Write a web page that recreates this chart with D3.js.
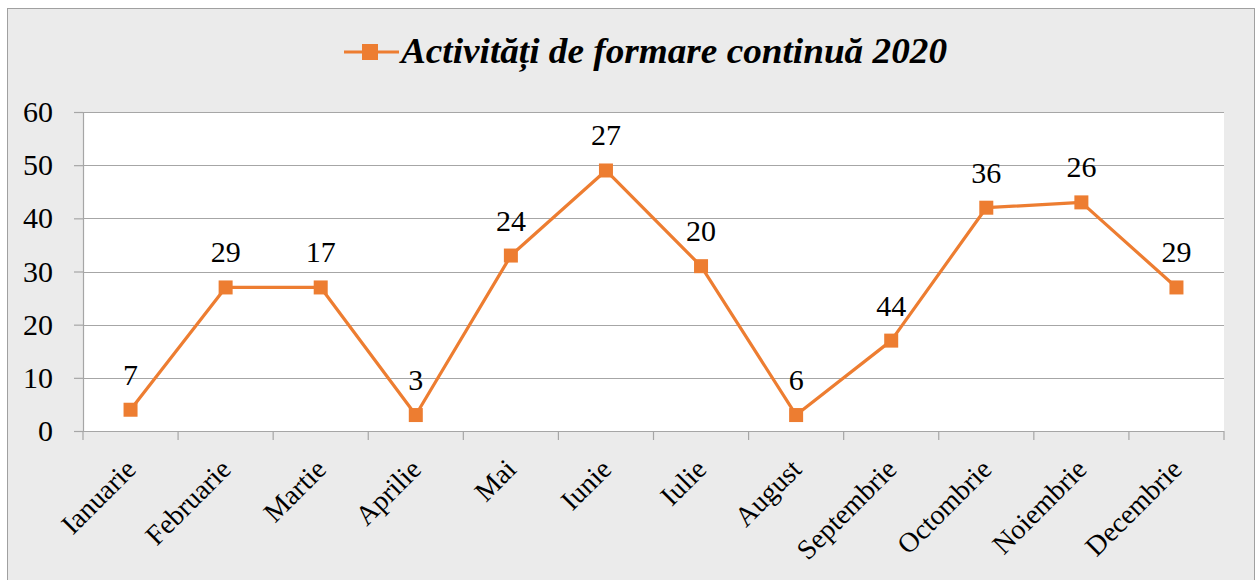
<!DOCTYPE html>
<html>
<head>
<meta charset="utf-8">
<script src="https://cdn.jsdelivr.net/npm/d3@7"></script>
<style>
  body { margin: 0; background: #fff; }
</style>
</head>
<body>
<div id="chart"></div>
<script>
// chart data
const months = ["Ianuarie", "Februarie", "Martie", "Aprilie", "Mai", "Iunie",
  "Iulie", "August", "Septembrie", "Octombrie", "Noiembrie", "Decembrie"];
const values = [4, 27, 27, 3, 33, 49, 31, 3, 17, 42, 43, 27];
const labels = [7, 29, 17, 3, 24, 27, 20, 6, 44, 36, 26, 29];
const yTicks = [0, 10, 20, 30, 40, 50, 60];
const seriesName = "Activități de formare continuă 2020";

const W = 1259, H = 580;
const FONT = "'Liberation Serif', 'Times New Roman', 'DejaVu Serif', serif";
const margin = {top: 112, right: 35, bottom: 149, left: 83},
    width = W - margin.left - margin.right,
    height = H - margin.top - margin.bottom;
const orange = "#ED7D31", grid = "#a6a6a6";

const root = d3.select("#chart").append("svg")
    .attr("width", W)
    .attr("height", H)
    .style("font-family", FONT);

// outer chart frame
root.append("rect")
    .attr("x", 7.5).attr("y", 8.5)
    .attr("width", 1247).attr("height", 580)
    .attr("fill", "#ebebeb")
    .attr("stroke", "#a0a0a0");

const svg = root.append("g")
    .attr("transform", `translate(${margin.left}, ${margin.top})`);

const x = d3.scaleBand().domain(months).range([0, width]);
const y = d3.scaleLinear().domain([0, 60]).range([height, 0]);

svg.append("rect")
    .attr("width", width).attr("height", height)
    .attr("fill", "#fff");

// horizontal grid
svg.append("g")
  .selectAll("line")
  .data(yTicks.slice(1))
  .join("line")
    .attr("x1", 0).attr("x2", width)
    .attr("y1", d => Math.round(y(d)) + 0.5)
    .attr("y2", d => Math.round(y(d)) + 0.5)
    .attr("stroke", grid).attr("stroke-width", 1.2);

// y axis
const yAxis = svg.append("g")
    .call(d3.axisLeft(y).tickValues(yTicks).tickSize(9).tickPadding(21));
yAxis.attr("font-family", null);
yAxis.selectAll("text").style("font-size", "30px").style("font-family", FONT).attr("fill", "#000");
yAxis.selectAll("line, path").attr("stroke", grid).attr("stroke-width", 1.2);
yAxis.select(".domain").attr("d", `M0.5,${height}V0.5`);

// x axis, ticks at band edges
const xAxis = svg.append("g")
    .attr("transform", `translate(0, ${height})`)
    .call(d3.axisBottom(x).tickSize(0).tickPadding(0));
xAxis.attr("font-family", null);
xAxis.select(".domain").attr("stroke", grid).attr("stroke-width", 1.2)
    .attr("d", `M0,0.5H${width}`);
xAxis.selectAll(".tick line").remove();
xAxis.append("g")
  .selectAll("line")
  .data(d3.range(months.length + 1))
  .join("line")
    .attr("x1", i => i * x.bandwidth()).attr("x2", i => i * x.bandwidth())
    .attr("y1", 0).attr("y2", 9)
    .attr("stroke", grid).attr("stroke-width", 1.2);
xAxis.selectAll(".tick text")
    .style("font-size", "28px")
    .style("font-family", FONT)
    .attr("fill", "#000")
    .style("text-anchor", "end")
    .attr("dy", 0)
    .attr("transform", "translate(7, 40) rotate(-45)");

// series line
svg.append("path")
    .datum(values)
    .attr("fill", "none")
    .attr("stroke", orange)
    .attr("stroke-width", 3.2)
    .attr("stroke-linejoin", "round")
    .attr("d", d3.line()
      .x((d, i) => x(months[i]) + x.bandwidth() / 2)
      .y(d => y(d)));

svg.selectAll(".marker")
  .data(values)
  .join("rect")
    .attr("class", "marker")
    .attr("x", (d, i) => x(months[i]) + x.bandwidth() / 2 - 7)
    .attr("y", d => y(d) - 7)
    .attr("width", 14).attr("height", 14)
    .attr("fill", orange);

svg.selectAll(".lbl")
  .data(labels)
  .join("text")
    .attr("class", "lbl")
    .attr("x", (d, i) => x(months[i]) + x.bandwidth() / 2)
    .attr("y", (d, i) => y(values[i]) - 25)
    .attr("text-anchor", "middle")
    .style("font-size", "30px")
    .text(d => d);

// legend
const leg = root.append("g").attr("transform", "translate(344, 52)");
leg.append("line")
    .attr("x1", 0).attr("x2", 55)
    .attr("stroke", orange).attr("stroke-width", 3.2);
leg.append("rect")
    .attr("x", 18).attr("y", -8).attr("width", 16).attr("height", 16)
    .attr("fill", orange);
leg.append("text")
    .attr("x", 57).attr("y", 11)
    .attr("textLength", 546)
    .attr("lengthAdjust", "spacingAndGlyphs")
    .style("font-size", "35px")
    .style("font-style", "italic")
    .style("font-weight", "bold")
    .text(seriesName);
</script>
</body>
</html>
